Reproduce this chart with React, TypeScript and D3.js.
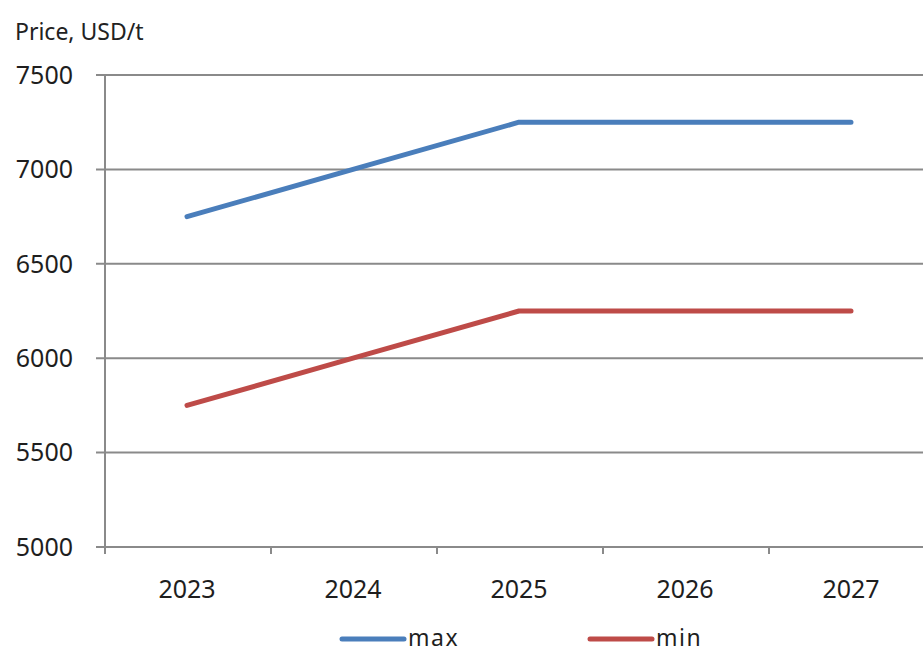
import React from "react";
import * as d3 from "d3";

const years = ["2023", "2024", "2025", "2026", "2027"];
const maxPrice = [6750, 7000, 7250, 7250, 7250];
const minPrice = [5750, 6000, 6250, 6250, 6250];
const yTicks = [5000, 5500, 6000, 6500, 7000, 7500];
const seriesNames = ["max", "min"];
const seriesColors = ["#4A7EBB", "#BE4B48"];

const W = 923;
const H = 653;
const left = 104;
const band = 166;
const top = 75;
const bottom = 547;
const font = "'Noto Sans', 'Open Sans', sans-serif";
const axisColor = "#8a8a8a";

export default function App() {
  const x = d3
    .scaleBand<string>()
    .domain(years)
    .range([left, left + band * years.length])
    .paddingInner(0)
    .paddingOuter(0);
  const y = d3.scaleLinear().domain([5000, 7500]).range([bottom, top]);
  const cx = (d: string) => (x(d) ?? 0) + x.bandwidth() / 2;

  const line = d3
    .line<number>()
    .x((_, i) => cx(years[i]))
    .y((v) => y(v));

  const series = [maxPrice, minPrice];
  const boundaries = d3.range(years.length + 1).map((i) => left + band * i);
  const legendX = [342, 590];

  return (
    <svg
      width={W}
      height={H}
      style={{ position: "absolute", left: 0, top: 0, background: "#fff" }}
      fontFamily={font}
    >
      <text x={15} y={40} fontSize={23} fill="#222">
        Price, USD/t
      </text>

      {/* horizontal gridlines and y tick labels */}
      {yTicks.map((t) => (
        <g key={t}>
          <line x1={left - 8} x2={W} y1={y(t)} y2={y(t)} stroke={axisColor} strokeWidth={2} />
          <text
            x={73}
            y={y(t)}
            dy="0.35em"
            textAnchor="end"
            fontSize={25}
            fill="#1e1e1e"
          >
            {t}
          </text>
        </g>
      ))}

      {/* vertical axis */}
      <line x1={left + 1} x2={left + 1} y1={top} y2={bottom} stroke={axisColor} strokeWidth={2} />

      {/* category ticks and labels */}
      {boundaries.map((b, i) => (
        <line key={i} x1={b + 1} x2={b + 1} y1={bottom} y2={bottom + 7} stroke={axisColor} strokeWidth={2} />
      ))}
      {years.map((yr) => (
        <text
          key={yr}
          x={cx(yr)}
          y={598}
          textAnchor="middle"
          fontSize={25}
          fill="#1e1e1e"
        >
          {yr}
        </text>
      ))}

      {/* series lines */}
      {series.map((s, i) => (
        <path
          key={seriesNames[i]}
          d={line(s) ?? ""}
          fill="none"
          stroke={seriesColors[i]}
          strokeWidth={5}
          strokeLinecap="round"
          strokeLinejoin="round"
        />
      ))}

      {/* legend */}
      {seriesNames.map((n, i) => (
        <g key={n}>
          <line
            x1={legendX[i]}
            x2={legendX[i] + 62}
            y1={639}
            y2={639}
            stroke={seriesColors[i]}
            strokeWidth={5}
            strokeLinecap="round"
          />
          <text x={legendX[i] + 66} y={646} fontSize={23} fill="#1e1e1e" letterSpacing={1.5}>
            {n}
          </text>
        </g>
      ))}
    </svg>
  );
}
